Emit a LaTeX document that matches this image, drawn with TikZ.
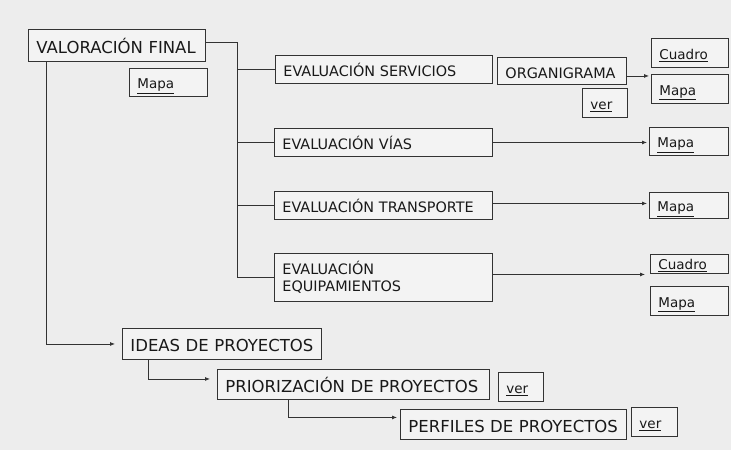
\documentclass[tikz,border=0pt]{standalone}
\usepackage{fontspec}
\setmainfont{DejaVu Sans}
\usetikzlibrary{shadows,arrows.meta}
\definecolor{bgc}{HTML}{EDEDED}
\definecolor{boxc}{HTML}{F3F3F3}
\definecolor{linec}{HTML}{333333}
\tikzset{
  bx/.style={draw=linec, line width=0.9pt, fill=boxc, anchor=north west, inner ysep=0pt, inner xsep=8pt, align=left, text=black!90,
    drop shadow={shadow xshift=0.7pt, shadow yshift=-1pt, opacity=0.7, fill=black!60}},
  bxd/.code 2 args={\pgfmathsetmacro\mytw{#1-16}\tikzset{text width=\mytw pt, minimum height=#2pt}},
  big/.style={font=\fontsize{16.5}{19}\selectfont, text height=15.5pt, text depth=0pt},
  mid/.style={font=\fontsize{14.4}{17}\selectfont, text height=15pt, text depth=0pt},
  midtwo/.style={font=\fontsize{14.4}{17}\selectfont},
  sml/.style={font=\fontsize{13.5}{16}\selectfont, text height=13pt, text depth=0pt},
  ln/.style={draw=linec, line width=0.8pt},
  arr/.style={ln, -{Latex[length=5pt,width=4pt]}},
}
\begin{document}
\begin{tikzpicture}[x=1pt,y=-1pt]
\fill[bgc] (0,0) rectangle (731,450);
\useasboundingbox (0,0) rectangle (731,450);

\node[bx,big,bxd={177}{32}] (vf) at (28,29) {VALORACIÓN FINAL};
\node[bx,sml,bxd={78}{28}] (vfm) at (129,68) {\underline{Mapa}};

\node[bx,mid,bxd={217}{28}] (es) at (275,55) {EVALUACIÓN SERVICIOS};
\node[bx,mid,bxd={129}{27}] (org) at (497,57) {ORGANIGRAMA};
\node[bx,sml,bxd={45}{29}] (orgv) at (582,88) {\underline{ver}};
\node[bx,sml,bxd={77}{29}] (esc) at (651,38) {\underline{Cuadro}};
\node[bx,sml,bxd={77}{29}] (esm) at (651,74) {\underline{Mapa}};

\node[bx,mid,bxd={218}{28}] (ev) at (274,128) {EVALUACIÓN VÍAS};
\node[bx,sml,bxd={79}{28}] (evm) at (649,127) {\underline{Mapa}};

\node[bx,mid,bxd={218}{28}] (et) at (274,191) {EVALUACIÓN TRANSPORTE};
\node[bx,sml,bxd={79}{26}] (etm) at (649,192) {\underline{Mapa}};

\node[bx,midtwo,bxd={218}{48}] (eq) at (274,253) {EVALUACIÓN\\EQUIPAMIENTOS};
\node[bx,sml,bxd={78}{19},text height=11pt] (eqc) at (650,254) {\underline{Cuadro}};
\node[bx,sml,bxd={78}{29}] (eqm) at (650,286) {\underline{Mapa}};

\node[bx,big,bxd={199}{31}] (ideas) at (122,328) {IDEAS DE PROYECTOS};
\node[bx,big,bxd={272}{30}] (prior) at (217,369) {PRIORIZACIÓN DE PROYECTOS};
\node[bx,sml,bxd={45}{29}] (priorv) at (498,372) {\underline{ver}};
\node[bx,big,bxd={226}{30}] (perf) at (400,409) {PERFILES DE PROYECTOS};
\node[bx,sml,bxd={46}{29}] (perfv) at (631,407) {\underline{ver}};

\coordinate (bus) at (237,0);
\draw[ln] ([yshift=3pt]vf.east) -| (bus |- eq.west) -- (eq.west);
\draw[ln] (bus |- es.west) -- (es.west);
\draw[ln] (bus |- ev.west) -- (ev.west);
\draw[ln] (bus |- et.west) -- (et.west);

\draw[arr, shorten >=2pt] ([yshift=-5pt]org.east) -- ([yshift=-5pt]org.east -| esm.west);
\draw[arr, shorten >=2pt] (ev.east) -- (ev.east -| evm.west);
\draw[arr, shorten >=2pt] ([yshift=2pt]et.east) -- ([yshift=2pt]et.east -| etm.west);
\draw[arr, shorten >=5pt] ([yshift=3pt]eq.east) -- ([yshift=3pt]eq.east -| eqc.west);

\draw[arr, shorten >=7pt] ([xshift=18pt]vf.south west) |- (ideas.west);
\draw[arr, shorten >=7pt] ([xshift=26pt]ideas.south west) |- ([yshift=5.5pt]prior.west);
\draw[arr, shorten >=3pt] ([xshift=71pt]prior.south west) |- ([yshift=7pt]perf.west);
\end{tikzpicture}
\end{document}
